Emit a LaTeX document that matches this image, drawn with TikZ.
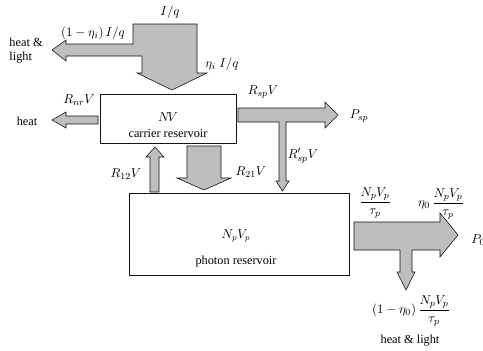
\documentclass[tikz,border=0pt]{standalone}
\usepackage{fontspec}
\setmainfont{Liberation Serif}
\usepackage{amsmath}
\usepackage{tikz}
\usetikzlibrary{positioning, calc}
\definecolor{flowgray}{RGB}{190,190,190}
\definecolor{inkdark}{RGB}{20,20,20}
\tikzset{
  reservoir/.style={rectangle, draw=inkdark, fill=white, line width=0.8pt,
    align=center, inner sep=0pt},
  flow/.style={draw=inkdark, fill=flowgray, line width=0.5pt, line join=miter},
  lbl/.style={font=\fontsize{11}{13}\selectfont, inner sep=1pt},
  txt/.style={font=\fontsize{10.5}{12}\selectfont, inner sep=1pt}
}

\begin{document}
\begin{tikzpicture}[x=0.03cm, y=-0.03cm]
  \useasboundingbox (0,0) rectangle (483,350);
  % ── reservoirs ───────────────────────────────────────────────────────────
  \node[reservoir, minimum width=136*0.03cm, minimum height=49*0.03cm] (carrier) at (168,118.5) {};
  \node[reservoir, minimum width=220*0.03cm, minimum height=82*0.03cm] (photon) at (239,234) {};
  \node[txt] (nv) at (168,117) {$N\!V$};
  \node[txt] (carlbl) at (168,133) {carrier reservoir};
  \node[txt] (npvp) at (236,236) {$N_p V_p$};
  \node[txt] (phlbl) at (236,262) {photon reservoir};
  % ── injection: I/q splits ────────────────────────────────────────────────
  \draw[flow] (133,24) -- (197,24) -- (197,73) -- (207,73) -- (172,90) -- (137,73)
    -- (142,73) -- (142,56) -- (66,56) -- (66,61) -- (52,50) -- (66,40) -- (66,44)
    -- (133,44) -- cycle;
  \node[lbl] (iq) at (170,12) {$I/q$};
  \node[lbl] (loss) at (93,33) {$(1-\eta_i)\,I/q$};
  \node[txt, align=left] (hl1) at (26,51) {heat \&\\light};
  \node[lbl] (etaiq) at (222,64) {$\eta_i\;I/q$};
  % ── nonradiative ─────────────────────────────────────────────────────────
  \draw[flow] (98,116) -- (66,116) -- (66,112) -- (52,120) -- (66,128) -- (66,124)
    -- (98,124) -- cycle;
  \node[lbl] (rnr) at (79,100) {$R_{nr}V$};
  \node[txt] (heat) at (27,121) {heat};
  % ── absorption / stimulated emission ─────────────────────────────────────
  \draw[flow] (150,192) -- (150,157) -- (146,157) -- (155,147) -- (164,157)
    -- (159,157) -- (159,192) -- cycle;
  \node[lbl] (r12) at (126,174) {$R_{12}V$};
  \draw[flow] (187,146) -- (221,146) -- (221,178) -- (231,178) -- (204,190)
    -- (177,178) -- (187,178) -- cycle;
  \node[lbl] (r21) at (251,172) {$R_{21}V$};
  % ── spontaneous emission ─────────────────────────────────────────────────
  \draw[flow] (238,108) -- (325,108) -- (325,102) -- (338,115) -- (325,128) -- (325,122)
    -- (286,122) -- (286,181) -- (289,181) -- (282.5,191) -- (276,181) -- (279,181)
    -- (279,122) -- (238,122) -- cycle;
  \node[lbl] (rsp) at (263,92) {$R_{sp}V$};
  \node[lbl] (psp) at (359,116) {$P_{sp}$};
  \node[lbl] (rspp) at (303,156) {$R_{sp}'V$};
  % ── photon output ────────────────────────────────────────────────────────
  \draw[flow] (354,222) -- (440,222) -- (440,213) -- (458,235) -- (440,257) -- (440,250)
    -- (412,250) -- (412,272) -- (415,272) -- (406,290) -- (397,272) -- (400,272)
    -- (400,250) -- (354,250) -- cycle;
  \node[lbl] (out) at (375,203) {$\dfrac{N_pV_p}{\tau_p}$};
  \node[lbl] (outeta) at (441,204) {$\eta_0\,\dfrac{N_pV_p}{\tau_p}$};
  \node[lbl, anchor=west] (p0) at (470,240) {$P_0$};
  \node[lbl] (outloss) at (411,311) {$(1-\eta_0)\,\dfrac{N_pV_p}{\tau_p}$};
  \node[txt] (hl2) at (410,341) {heat \& light};
\end{tikzpicture}
\end{document}
